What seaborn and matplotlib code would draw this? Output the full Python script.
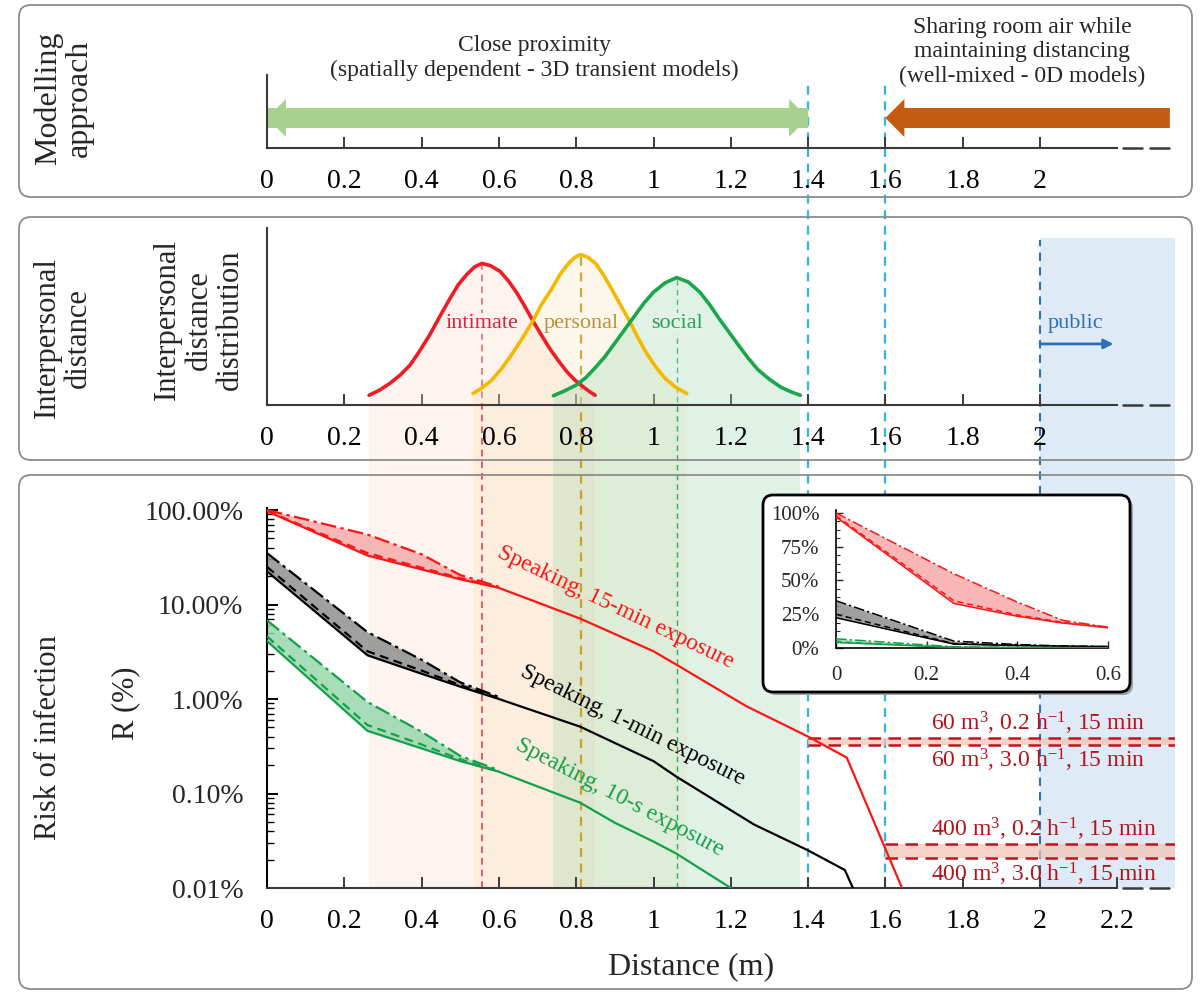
import numpy as np
import matplotlib
matplotlib.use("Agg")
import matplotlib.pyplot as plt
import matplotlib.patches as mpatches
import matplotlib.transforms as mtransforms
from matplotlib.lines import Line2D
from matplotlib.ticker import FixedLocator, FixedFormatter, LogLocator, NullFormatter, MultipleLocator
import seaborn as sns

sns.set_theme(style="white")
plt.rcParams["font.family"] = ["Liberation Serif", "DejaVu Serif"]
plt.rcParams["mathtext.fontset"] = "custom"
plt.rcParams["mathtext.rm"] = "Liberation Serif"
plt.rcParams["mathtext.it"] = "Liberation Serif:italic"
plt.rcParams["mathtext.bf"] = "Liberation Serif:bold"

# ---------------------------------------------------------------- data
distance_ticks = [0, 0.2, 0.4, 0.6, 0.8, 1.0, 1.2, 1.4, 1.6, 1.8, 2.0, 2.2]
distance_tick_labels = ["0", "0.2", "0.4", "0.6", "0.8", "1", "1.2",
                        "1.4", "1.6", "1.8", "2", "2.2"]

# modelling approach ranges (m)
close_proximity_range = [0.0, 1.4]
well_mixed_range = [1.6, 2.336]
public_start = 2.0

# interpersonal distance distributions
intimate_x = [0.264, 0.29, 0.318, 0.345, 0.37, 0.395, 0.422, 0.447, 0.473, 0.495,
              0.517, 0.537, 0.556, 0.578, 0.603, 0.625, 0.646, 0.667, 0.688, 0.71,
              0.732, 0.754, 0.776, 0.797, 0.818, 0.835, 0.849]
intimate_y = [0.22, 0.33, 0.49, 0.68, 0.9, 1.22, 1.6, 2.0, 2.4, 2.72,
              2.95, 3.12, 3.20, 3.15, 3.02, 2.8, 2.54, 2.23, 1.9, 1.58,
              1.27, 1.0, 0.75, 0.56, 0.41, 0.3, 0.22]
personal_x = [0.533, 0.555, 0.58, 0.605, 0.63, 0.66, 0.688, 0.71, 0.735, 0.758,
              0.78, 0.797, 0.812, 0.83, 0.85, 0.87, 0.89, 0.912, 0.935, 0.958,
              0.98, 1.005, 1.03, 1.058, 1.086]
personal_y = [0.26, 0.38, 0.55, 0.8, 1.1, 1.5, 1.9, 2.27, 2.6, 2.95,
              3.2, 3.34, 3.4, 3.34, 3.2, 2.95, 2.65, 2.3, 1.95, 1.55,
              1.2, 0.87, 0.6, 0.4, 0.26]
social_x = [0.741, 0.77, 0.80, 0.825, 0.85, 0.875, 0.90, 0.925, 0.95, 0.975,
            1.00, 1.03, 1.06, 1.09, 1.12, 1.145, 1.17, 1.195, 1.22, 1.245,
            1.27, 1.30, 1.33, 1.355, 1.38]
social_y = [0.21, 0.32, 0.45, 0.62, 0.85, 1.1, 1.4, 1.7, 2.0, 2.3,
            2.55, 2.76, 2.88, 2.78, 2.55, 2.27, 1.95, 1.65, 1.35, 1.06,
            0.8, 0.58, 0.4, 0.3, 0.22]

# risk of infection (%) while speaking
near_x = [0, 0.26, 0.4, 0.5, 0.6]

red_solid_x = [0, 0.26, 0.4, 0.5, 0.6, 0.81, 1.0, 1.06, 1.24, 1.4, 1.5, 1.643]
red_solid = [97, 33, 23.5, 18.5, 15, 7.1, 3.2, 2.3, 0.84, 0.40, 0.24, 0.01]
red_dashed = [98, 35, 24.5, 19, 15.2]
red_dashdot = [100, 55, 34, 20.5, 15.4]

black_solid_x = [0, 0.26, 0.4, 0.5, 0.6, 0.81, 1.0, 1.06, 1.26, 1.4, 1.495, 1.516]
black_solid = [22.4, 2.9, 1.85, 1.35, 1.0, 0.51, 0.22, 0.15, 0.047, 0.025,
               0.0155, 0.01]
black_dashed = [25, 3.2, 2.0, 1.4, 1.02]
black_dashdot = [35, 5.1, 2.6, 1.5, 1.05]

green_solid_x = [0, 0.26, 0.4, 0.5, 0.6, 0.81, 0.9, 1.0, 1.06, 1.2]
green_solid = [4.1, 0.46, 0.30, 0.22, 0.17, 0.08, 0.049, 0.031, 0.023, 0.01]
green_dashed = [4.6, 0.53, 0.33, 0.23, 0.172]
green_dashdot = [6.8, 0.93, 0.45, 0.25, 0.176]

risk_y_ticks = [0.01, 0.1, 1, 10, 100]
risk_y_labels = ["0.01%", "0.10%", "1.00%", "10.00%", "100.00%"]

# well-mixed room, 15-min exposure (%)
room_60_labels = [r"60 m$^{3}$, 0.2 h$^{-1}$, 15 min", r"60 m$^{3}$, 3.0 h$^{-1}$, 15 min"]
room_60_risk = [0.384, 0.328]
room_400_labels = [r"400 m$^{3}$, 0.2 h$^{-1}$, 15 min", r"400 m$^{3}$, 3.0 h$^{-1}$, 15 min"]
room_400_risk = [0.0289, 0.0208]

inset_x_ticks = [0, 0.2, 0.4, 0.6]
inset_x_labels = ["0", "0.2", "0.4", "0.6"]
inset_y_ticks = [0, 25, 50, 75, 100]
inset_y_labels = ["0%", "25%", "50%", "75%", "100%"]

# ---------------------------------------------------------------- colours
RED, BLACK, GREEN = "#ff1414", "#000000", "#14a04a"
RED_FILL, BLACK_FILL, GREEN_FILL = "#f7aaaa", "#8f8f8f", "#98d7ab"
INTIMATE_C, PERSONAL_C, SOCIAL_C = "#ee1c25", "#f5b800", "#1ca64c"
INTIMATE_F, PERSONAL_F, SOCIAL_F = "#f9d5c8", "#f8d48a", "#9fd8b0"
CYAN, PUBLIC_BLUE = "#2fb6e8", "#2e6fb6"
ROOM_RED = "#b5121b"
AXIS_C = "#3a3a3a"

# ---------------------------------------------------------------- layout
W, H = 1202, 992
X0_PX, PX_PER_M, XR_PX = 267, 386.5, 1175
X_MAX = (XR_PX - X0_PX) / PX_PER_M

fig = plt.figure(figsize=(W / 100, H / 100), dpi=100, facecolor="white")


def fx(px):
    return px / W


def fy(py):
    return 1 - py / H


def px_axes(left, top, right, bottom, z=0):
    ax = fig.add_axes([left / W, 1 - bottom / H, (right - left) / W, (bottom - top) / H])
    ax.set_facecolor("none")
    ax.set_zorder(z)
    return ax


ax_top = px_axes(267, 5, XR_PX, 148)
ax_mid = px_axes(267, 228, XR_PX, 405)
ax_bot = px_axes(267, 508, XR_PX, 888)
ax_in = px_axes(836, 510, 1108, 648, z=3)


def style_distance_axis(ax, n_labels):
    for s in ["top", "right"]:
        ax.spines[s].set_visible(False)
    for s in ["bottom", "left"]:
        ax.spines[s].set_color(AXIS_C)
        ax.spines[s].set_linewidth(1.5)
    ax.spines["bottom"].set_bounds(0, 2.2)
    ax.set_xlim(0, X_MAX)
    ax.xaxis.set_major_locator(FixedLocator(distance_ticks[:n_labels]))
    ax.xaxis.set_major_formatter(FixedFormatter(distance_tick_labels[:n_labels]))
    ax.tick_params(axis="x", bottom=True, direction="in", length=8, width=1.4,
                   color=AXIS_C, labelsize=20, pad=15, labelcolor="black")
    for a, b in [(2.215, 2.265), (2.285, 2.335)]:
        ax.plot([a, b], [0, 0], transform=ax.get_xaxis_transform(),
                color=AXIS_C, lw=1.8, clip_on=False)


# ---- top panel: modelling approach
style_distance_axis(ax_top, 11)
ax_top.set_ylim(0, 143)
ax_top.spines["left"].set_bounds(0, 73)
ax_top.tick_params(axis="y", left=False, labelleft=False)

arrow_kw = dict(width=20, head_width=38, head_length=19 / PX_PER_M,
                length_includes_head=True, lw=0)
# two full-length arrows in opposite directions give one double-headed arrow
for start, end in [close_proximity_range, close_proximity_range[::-1]]:
    ax_top.add_patch(mpatches.FancyArrow(start, 30, end - start, 0,
                                         color="#a9d18e", **arrow_kw))
ax_top.add_patch(mpatches.FancyArrow(well_mixed_range[1], 30,
                                     well_mixed_range[0] - well_mixed_range[1], 0,
                                     color="#c55a11", **arrow_kw))

fig.text(fx(534), fy(58), "Close proximity\n(spatially dependent - 3D transient models)",
         ha="center", va="center", fontsize=17, linespacing=1.2)
fig.text(fx(1022), fy(52), "Sharing room air while\nmaintaining distancing\n(well-mixed - 0D models)",
         ha="center", va="center", fontsize=17, linespacing=1.2)
fig.text(fx(64), fy(98), "Modelling\napproach", rotation=90, ha="center",
         va="center", fontsize=23, linespacing=1.1)

# ---- middle panel: interpersonal distance distributions
style_distance_axis(ax_mid, 11)
ax_mid.set_ylim(0, 4.0)
ax_mid.tick_params(axis="y", left=False, labelleft=False)

dists = [
    ("intimate", intimate_x, intimate_y, INTIMATE_C, INTIMATE_F, 0.28, "#e0203c", "#fdf2ee"),
    ("personal", personal_x, personal_y, PERSONAL_C, PERSONAL_F, 0.17, "#b8923a", "#fdf7ea"),
    ("social", social_x, social_y, SOCIAL_C, SOCIAL_F, 0.32, "#27a05a", "#e3f2e6"),
]
for name, xs, ys, c, fc, al, tc, bg in dists:
    ax_mid.fill_between(xs, 0, ys, color=fc, alpha=al, lw=0, zorder=1)
    sns.lineplot(x=xs, y=ys, ax=ax_mid, color=c, lw=2.6, estimator=None, zorder=5)
    peak_x = xs[int(np.argmax(ys))]
    ax_mid.text(peak_x, 1.85, name, ha="center", va="center", fontsize=16,
                color=tc, zorder=4,
                bbox=dict(boxstyle="square,pad=0.05", fc=bg, ec="none"))

ax_mid.text(public_start + 0.02, 1.85, "public", ha="left", va="center",
            fontsize=16, color=PUBLIC_BLUE, zorder=4)
ax_mid.annotate("", xy=(public_start + 0.19, 1.38), xytext=(public_start, 1.38),
                arrowprops=dict(arrowstyle="-|>", color=PUBLIC_BLUE, lw=2,
                                mutation_scale=14, shrinkA=0, shrinkB=0))

fig.text(fx(63), fy(338), "Interpersonal\ndistance", rotation=90, ha="center",
         va="center", fontsize=22, linespacing=1.1)
fig.text(fx(199), fy(320), "Interpersonal\ndistance\ndistribution", rotation=90,
         ha="center", va="center", fontsize=22, linespacing=1.1)

# ---- bottom panel: risk of infection
ax_bot.set_yscale("log")
style_distance_axis(ax_bot, 12)
ax_bot.set_ylim(0.01, 105)
ax_bot.yaxis.set_major_locator(FixedLocator(risk_y_ticks))
ax_bot.yaxis.set_major_formatter(FixedFormatter(risk_y_labels))
ax_bot.yaxis.set_minor_locator(LogLocator(base=10, subs=np.arange(2, 10)))
ax_bot.yaxis.set_minor_formatter(NullFormatter())
ax_bot.spines["left"].set_color("black")
ax_bot.tick_params(axis="y", which="major", left=True, direction="in", length=8,
                   width=1.4, color="black", labelsize=20, pad=17)
ax_bot.tick_params(axis="y", which="minor", left=True, direction="in", length=5,
                   width=1.0, color="black")

series = [
    (red_solid_x, red_solid, red_dashed, red_dashdot, RED, RED_FILL),
    (black_solid_x, black_solid, black_dashed, black_dashdot, BLACK, BLACK_FILL),
    (green_solid_x, green_solid, green_dashed, green_dashdot, GREEN, GREEN_FILL),
]


def draw_risk(ax, lw):
    for sx, sy, dsh, dd, c, fc in series:
        ax.fill_between(near_x, sy[:len(near_x)], dd, color=fc, alpha=0.85, lw=0, zorder=2)
        sns.lineplot(x=sx, y=sy, ax=ax, color=c, lw=lw, estimator=None, zorder=4)
        sns.lineplot(x=near_x, y=dsh, ax=ax, color=c, lw=lw, estimator=None,
                     linestyle=(0, (4, 2.5)), zorder=4)
        sns.lineplot(x=near_x, y=dd, ax=ax, color=c, lw=lw, estimator=None,
                     linestyle=(0, (7, 2, 1.5, 2)), zorder=4)


draw_risk(ax_bot, 1.6)
ax_bot.set_xlabel("")
ax_bot.set_ylabel("")

ax_bot.text(0.903, 9.4, "Speaking, 15-min exposure", rotation=-25.5,
            rotation_mode="anchor", ha="center", va="center", fontsize=17, color=RED)
ax_bot.text(0.947, 0.531, "Speaking, 1-min exposure", rotation=-26.3,
            rotation_mode="anchor", ha="center", va="center", fontsize=17, color=BLACK)
ax_bot.text(0.913, 0.0918, "Speaking, 10-s exposure", rotation=-27.6,
            rotation_mode="anchor", ha="center", va="center", fontsize=17, color=GREEN)

# well-mixed reference levels
for start, levels, labels in [(close_proximity_range[1], room_60_risk, room_60_labels),
                              (well_mixed_range[0], room_400_risk, room_400_labels)]:
    ax_bot.fill_between([start, X_MAX], levels[1], levels[0], color="#f2c2b0",
                        alpha=0.7, lw=0, zorder=1)
    for v in levels:
        ax_bot.plot([start, X_MAX], [v, v], color="#c0131f", lw=1.8,
                    linestyle=(0, (5, 3)), zorder=3)
    ax_bot.annotate(labels[0], xy=(1.718, levels[0]), xytext=(0, 15),
                    textcoords="offset pixels", ha="left", va="center",
                    fontsize=17, color=ROOM_RED, zorder=5)
    ax_bot.annotate(labels[1], xy=(1.718, levels[1]), xytext=(0, -16),
                    textcoords="offset pixels", ha="left", va="center",
                    fontsize=17, color=ROOM_RED, zorder=5)

fig.text(fx(49), fy(738), "Risk of infection", rotation=90, ha="center",
         va="center", fontsize=22)
fig.text(fx(126), fy(703), "R (%)", rotation=90, ha="center", va="center", fontsize=22)
fig.text(fx(691), fy(967), "Distance (m)", ha="center", va="center", fontsize=23)

# ---- zones and reference lines running through the panels
blend = mtransforms.blended_transform_factory(ax_bot.transData, fig.transFigure)
band_top = ax_mid.get_position().y0
band_bottom = ax_bot.get_position().y0

for name, xs, ys, c, fc, al, tc, bg in dists:
    fig.add_artist(mpatches.Rectangle((min(xs), band_bottom), max(xs) - min(xs),
                                      band_top - band_bottom, transform=blend,
                                      facecolor=fc, alpha=al, lw=0, zorder=-3))
fig.add_artist(mpatches.Rectangle((public_start, band_bottom), X_MAX - public_start,
                                  fy(238) - band_bottom, transform=blend,
                                  facecolor="#deeaf6", lw=0, zorder=-3))


def fig_y_of(ax, y):
    disp = ax.transData.transform((0, y))
    return fig.transFigure.inverted().transform(disp)[1]


def fig_vline(x, y_top, color, lw, dash):
    fig.add_artist(Line2D([x, x], [band_bottom, y_top], transform=blend, color=color,
                          lw=lw, linestyle=(0, dash), zorder=-2))


dist_line_style = [("#e4434f", 1.2, (4, 3)), ("#c9a227", 1.6, (4, 3)), ("#3aaa5a", 1.0, (4, 3))]
for (name, xs, ys, *_), (c, lw, dash) in zip(dists, dist_line_style):
    k = int(np.argmax(ys))
    fig_vline(xs[k], fig_y_of(ax_mid, ys[k]), c, lw, dash)
for x in [close_proximity_range[1], well_mixed_range[0]]:
    fig_vline(x, fy(82), CYAN, 1.6, (4, 3))
fig_vline(public_start, fy(240), PUBLIC_BLUE, 1.5, (4, 3))

# ---- panel frames
def frame(left, top, right, bottom, ec="#8c8c8c", lw=1.3, fc="none", z=1, r=0.12):
    p = mpatches.FancyBboxPatch((left / 100, (H - bottom) / 100), (right - left) / 100,
                                (bottom - top) / 100,
                                boxstyle=f"round,pad=0,rounding_size={r}",
                                transform=fig.dpi_scale_trans, fc=fc, ec=ec, lw=lw,
                                zorder=z)
    fig.add_artist(p)


frame(19, 5, 1192, 197)
frame(19, 217, 1192, 460)
frame(19, 475, 1192, 989)

# ---- inset (linear scale)
frame(766, 498, 1133, 695, ec="none", fc="#a0a0a0", z=1.9, r=0.1)
frame(763, 495, 1130, 692, ec="black", fc="white", lw=2, z=2, r=0.1)

draw_risk(ax_in, 1.1)
ax_in.set_xlim(0, 0.6)
ax_in.set_ylim(0, 102.2)
for s in ["top", "right"]:
    ax_in.spines[s].set_visible(False)
for s in ["bottom", "left"]:
    ax_in.spines[s].set_color("black")
    ax_in.spines[s].set_linewidth(1.2)
ax_in.xaxis.set_major_locator(FixedLocator(inset_x_ticks))
ax_in.xaxis.set_major_formatter(FixedFormatter(inset_x_labels))
ax_in.yaxis.set_major_locator(FixedLocator(inset_y_ticks))
ax_in.yaxis.set_major_formatter(FixedFormatter(inset_y_labels))
ax_in.yaxis.set_minor_locator(MultipleLocator(6.25))
ax_in.tick_params(axis="x", bottom=True, direction="in", length=5, width=1.0,
                  labelsize=15, pad=13)
ax_in.tick_params(axis="y", which="major", left=True, direction="in", length=5,
                  width=1.0, labelsize=15, pad=12)
ax_in.tick_params(axis="y", which="minor", left=True, direction="in", length=3, width=0.8)
ax_in.set_xlabel("")
ax_in.set_ylabel("")

fig.savefig("out.png", dpi=100, facecolor="white")
